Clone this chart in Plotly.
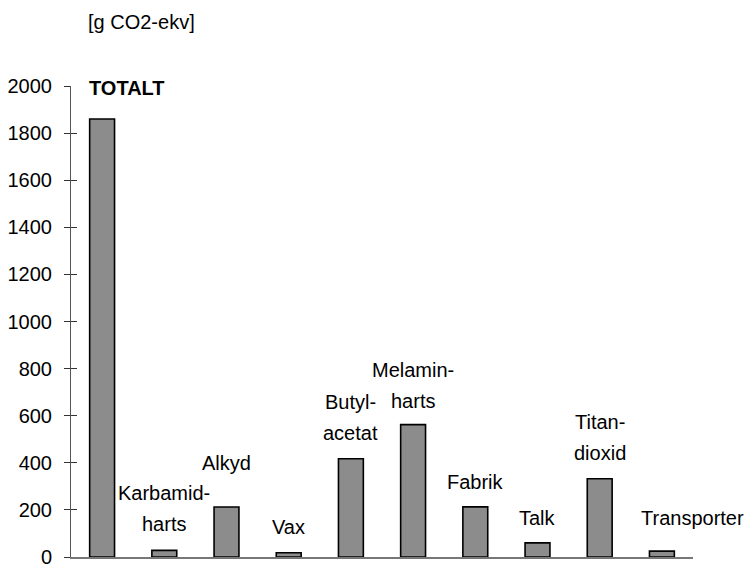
import plotly.graph_objects as go

# values, [g CO2-ekv]
categories = ['TOTALT', 'Karbamidharts', 'Alkyd', 'Vax', 'Butylacetat',
              'Melaminharts', 'Fabrik', 'Talk', 'Titandioxid', 'Transporter']
values = [1860, 28, 212, 18, 417, 562, 213, 60, 332, 25]
labels = ['<b>TOTALT</b>', 'Karbamid-<br>harts', 'Alkyd', 'Vax', 'Butyl-<br>acetat',
          'Melamin-<br>harts', 'Fabrik', 'Talk', 'Titan-<br>dioxid', 'Transporter']
y_ticks = [0, 200, 400, 600, 800, 1000, 1200, 1400, 1600, 1800, 2000]
unit_text = '[g CO2-ekv]'

# label placement (pixels): lift above bar top, sideways shift
label_lift = [31, 26, 44, 26, 26, 24, 25, 25, 26, 33]
label_xshift = [0, 0, 0, 0, 0, 0, 0, 0, 0, 31]
line_gap = 31
FONT = 'Liberation Sans, Arial, sans-serif'

fig = go.Figure()
fig.add_trace(go.Bar(
    x=categories, y=values, width=0.4,
    marker=dict(color='#8c8c8c', line=dict(color='black', width=1.6)),
    showlegend=False, hoverinfo='x+y',
))
# dummy trace so the second y axis (inner tick marks) gets drawn
fig.add_trace(go.Scatter(x=[categories[0]], y=[0], yaxis='y2', mode='markers',
                         marker=dict(opacity=0), showlegend=False, hoverinfo='skip'))

annotations = []
for i, lab in enumerate(labels):
    lines = lab.replace('<b>', '').replace('</b>', '').split('<br>')
    bold = lab.startswith('<b>')
    n = len(lines)
    for j, line in enumerate(lines):
        annotations.append(dict(
            x=categories[i], y=values[i], xref='x', yref='y',
            text='<b>%s</b>' % line if bold else line,
            showarrow=False, yanchor='middle',
            xanchor='left' if bold else 'center',
            xshift=-15 if bold else label_xshift[i],
            yshift=label_lift[i] + (n - 1 - j) * line_gap,
            font=dict(family=FONT, size=20, color='black'),
        ))

annotations.append(dict(
    x=0.024, y=1.135, xref='paper', yref='paper', text=unit_text,
    showarrow=False, xanchor='left', yanchor='middle',
    font=dict(family=FONT, size=20, color='black'),
))

fig.update_layout(
    width=752, height=567,
    margin=dict(l=71, r=59, t=86, b=10, autoexpand=False),
    plot_bgcolor='white', paper_bgcolor='white',
    font=dict(family=FONT, size=20, color='black'),
    bargap=0.6,
    annotations=annotations,
    xaxis=dict(showline=True, linecolor='#777777', linewidth=1.5,
               showticklabels=False, ticks='', showgrid=False, zeroline=False,
               range=[-0.5, len(categories) - 0.5]),
    yaxis=dict(range=[0, 2000], tickvals=y_ticks, showline=True, linecolor='#555555',
               linewidth=1, ticks='outside', ticklen=6, tickcolor='#333333',
               showgrid=False, zeroline=False, ticklabelstandoff=8,
               ticklabeloverflow='allow',
               tickfont=dict(family=FONT, size=20, color='black')),
    yaxis2=dict(range=[0, 2000], tickvals=y_ticks, overlaying='y', side='left',
                ticks='inside', ticklen=6, tickcolor='#333333', showline=False,
                showticklabels=False, showgrid=False, zeroline=False),
)

# drop the browser's default body margin so the figure sits at the window corner
fig.write_html("out.html", config={'displayModeBar': False},
               post_script="document.body.style.margin='0';")
